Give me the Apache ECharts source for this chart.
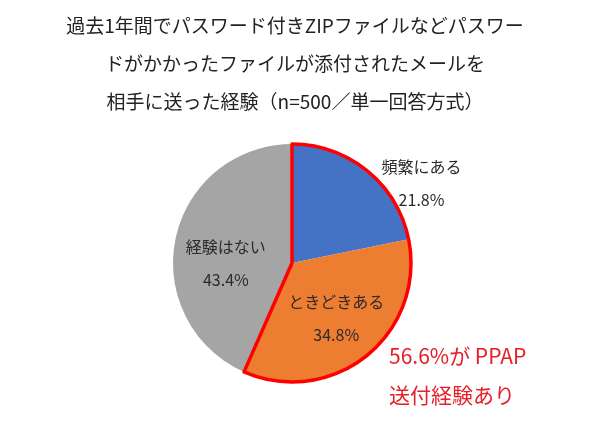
<!DOCTYPE html>
<html><head><meta charset="utf-8">
<script src="https://cdn.jsdelivr.net/npm/echarts@6/dist/echarts.min.js"></script>
<style>html,body{margin:0;padding:0;background:#fff}#c{width:590px;height:424px}</style>
</head><body><div id="c"></div>
<script>
const categories = ['頻繁にある', 'ときどきある', '経験はない'];
const values = [21.8, 34.8, 43.4];
const colors = ['#4472C4', '#ED7D31', '#A5A5A5'];
const labelOffsets = [[90, -31], [5, 7], [-5, 13]];
const highlightLabel = ['56.6%が PPAP', '送付経験あり'];
const pptotal = values[0] + values[1];

const FONT = '"Noto Sans CJK JP", sans-serif';
const chart = echarts.init(document.getElementById('c'));
chart.setOption({
  backgroundColor: '#fff',
  animation: false,
  title: [
    { text: '過去1年間でパスワード付きZIPファイルなどパスワー\nドがかかったファイルが添付されたメールを\n相手に送った経験（n=500／単一回答方式）',
      left: 'center', top: 2,
      textStyle: { fontFamily: FONT, fontSize: 19, fontWeight: 'normal', color: '#222', lineHeight: 38 } },
    { text: highlightLabel.join('\n'), left: 384, top: 332,
      textStyle: { fontFamily: FONT, fontSize: 21, fontWeight: 'normal', color: '#E5202A', lineHeight: 39 } }
  ],
  series: [
    {
      type: 'pie', center: [292, 263], radius: 119, startAngle: 90, clockwise: true,
      silent: true,
      label: { show: true, position: 'inside', fontFamily: FONT, fontSize: 16, color: '#2b2b2b', lineHeight: 33,
        formatter: p => p.name + '\n' + p.value.toFixed(1) + '%' },
      labelLine: { show: false },
      itemStyle: { borderWidth: 0 },
      data: categories.map((n, i) => ({ name: n, value: values[i], itemStyle: { color: colors[i] },
        label: { offset: labelOffsets[i] } }))
    },
    {
      type: 'pie', center: [292, 263], radius: 119, startAngle: 90, clockwise: true,
      silent: true, z: 5,
      label: { show: false }, labelLine: { show: false },
      data: [
        { name: 'PPAP', value: pptotal, itemStyle: { color: 'rgba(0,0,0,0)', borderColor: '#FF0000', borderWidth: 3.5 } },
        { name: 'none', value: values[2], itemStyle: { color: 'rgba(0,0,0,0)', borderWidth: 0 } }
      ]
    }
  ]
});
</script></body></html>
